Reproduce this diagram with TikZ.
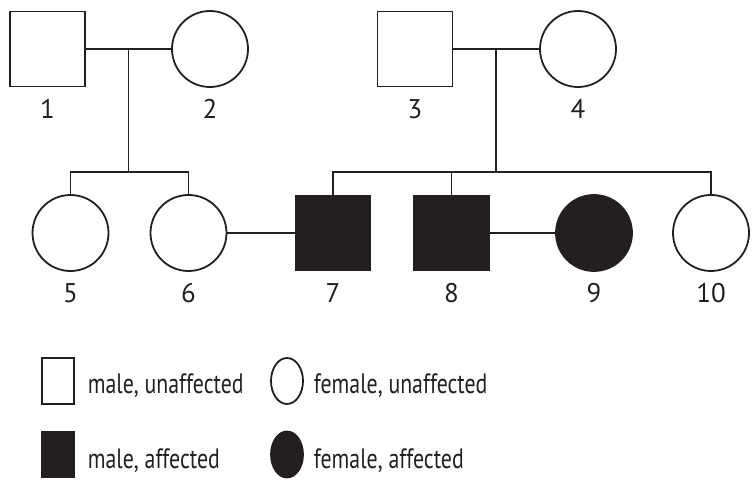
\documentclass[tikz,border=0pt]{standalone}
\usepackage{fontspec}
\setmainfont{PT Sans}
\newfontfamily\keyfont[FakeStretch=0.78]{PT Sans}
\usetikzlibrary{positioning,shapes.geometric}
\definecolor{ink}{HTML}{231F20}
\begin{document}
\begin{tikzpicture}[x=1pt, y=1pt, line width=1.8pt, color=ink,
  male/.style={rectangle, draw=ink, minimum size=75pt, inner sep=0pt},
  female/.style={circle, draw=ink, minimum size=76pt, inner sep=0pt},
  aff/.style={fill=ink},
  num/.style={anchor=base, inner sep=0pt, font=\fontsize{27}{30}\selectfont},
  key/.style={anchor=base west, inner sep=0pt, font=\keyfont\fontsize{28}{30}\selectfont}]
\useasboundingbox (0,0) rectangle (752,484);

% parents
\node[male] (p1) at (47.5,435) {};
\node[female] (p2) at (210,435) {};
\node[male] (p3) at (415,435) {};
\node[female] (p4) at (578,435) {};

% children
\node[female] (p5) at (70.5,251) {};
\node[female] (p6) at (188.5,251) {};
\node[male,aff] (p7) at (333,251) {};
\node[male,aff] (p8) at (451.5,251) {};
\node[female,aff] (p9) at (594,251) {};
\node[female] (p10) at (711,251) {};

\foreach \i/\x in {1/47.5, 2/210, 3/415, 4/578}
  \node[num] (n\i) at (\x,365) {\i};
\foreach \i/\x in {5/70.5, 6/188.5, 7/333, 8/451.5, 9/594, 10/711}
  \node[num] (n\i) at (\x,181) {\i};

% matings and sibships
\coordinate (sib) at (0,312);
\draw (p1) -- (p2) coordinate[midway] (m12);
\draw (p3) -- (p4) coordinate[midway] (m34);
\draw (p6) -- (p7);
\draw (p8) -- (p9);
\draw (m12) -- (m12 |- sib);
\draw (m34) -- (m34 |- sib);
\draw (p5.north) |- (p6 |- sib) -- (p6.north);
\draw (p7.north) |- (p10 |- sib) -- (p10.north);
\draw (p8.north) -- (p8 |- sib);

% key
\node[male, minimum width=32pt, minimum height=46pt] (k1) at (58,103) {};
\node[ellipse, draw=ink, minimum width=32pt, minimum height=46pt, inner sep=0pt] (k2) at (287,103) {};
\node[male, aff, minimum width=32pt, minimum height=46pt] (k3) at (58,29.5) {};
\node[ellipse, draw=ink, aff, minimum width=32pt, minimum height=46pt, inner sep=0pt] (k4) at (287,29.5) {};
\node[key] (t1) at (87,90) {male, unaffected};
\node[key] (t2) at (313,90) {female, unaffected};
\node[key] (t3) at (87,15) {male, affected};
\node[key] (t4) at (313,15) {female, affected};
\end{tikzpicture}
\end{document}
